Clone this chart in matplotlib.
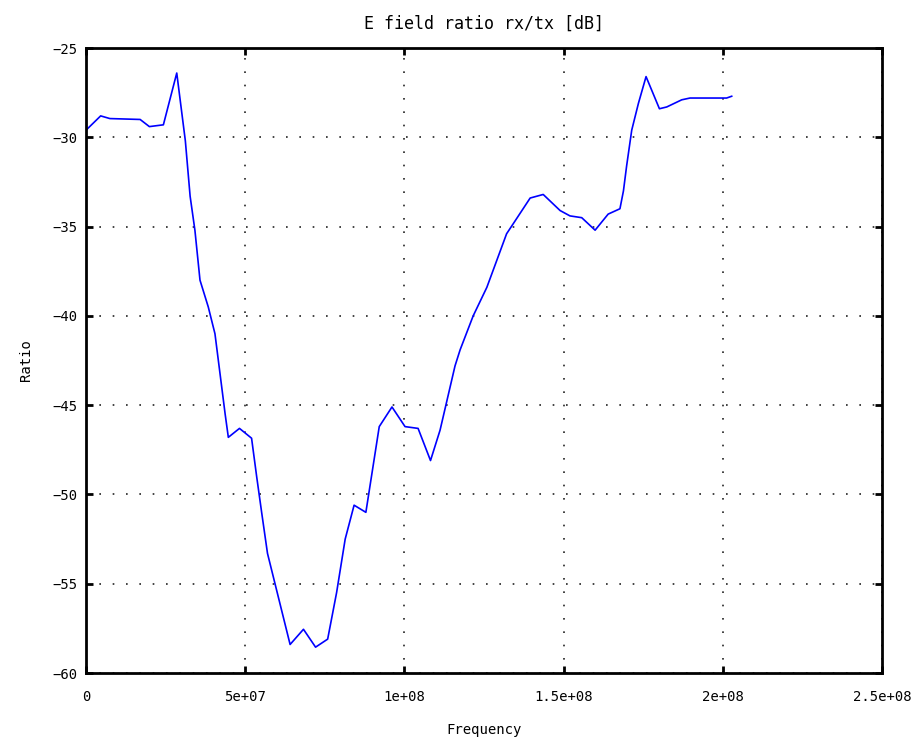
import matplotlib.pyplot as plt
import numpy as np

# frequency [Hz] and received/transmitted field ratio [dB]
freq_mhz = [0.0, 4.6, 7.5, 17.0, 19.9, 24.3, 28.5, 31.2, 32.7, 34.2, 35.8,
            38.4, 40.5, 43.7, 44.7, 48.2, 52.0, 53.6, 55.2, 57.0, 64.1,
            68.3, 72.1, 75.9, 78.7, 81.4, 84.2, 87.9, 90.0, 92.1, 96.1,
            100.2, 104.3, 108.2, 111.2, 115.9, 117.5, 121.6, 125.9, 129.0,
            132.1, 134.7, 139.5, 143.6, 148.9, 152.0, 155.7, 159.9, 164.0,
            167.7, 168.8, 169.8, 171.4, 173.5, 175.9, 180.1, 182.4, 187.1,
            189.7, 201.2, 202.8]
ratio_db = [-29.6, -28.8, -28.95, -29.0, -29.4, -29.3, -26.4, -30.2, -33.3,
            -35.2, -38.0, -39.5, -41.0, -45.5, -46.8, -46.3, -46.85, -49.0,
            -51.05, -53.3, -58.4, -57.55, -58.55, -58.1, -55.5, -52.5, -50.6,
            -51.0, -48.6, -46.2, -45.1, -46.2, -46.3, -48.1, -46.4, -42.8,
            -41.9, -40.0, -38.4, -36.9, -35.4, -34.7, -33.4, -33.2, -34.1,
            -34.4, -34.5, -35.2, -34.3, -34.0, -33.0, -31.6, -29.6, -28.1,
            -26.6, -28.4, -28.3, -27.9, -27.8, -27.8, -27.7]

freq = np.array(freq_mhz) * 1e6

xticks = [0, 5e7, 1e8, 1.5e8, 2e8, 2.5e8]
xticklabels = ['0', '5e+07', '1e+08', '1.5e+08', '2e+08', '2.5e+08']
yticks = [-60, -55, -50, -45, -40, -35, -30, -25]

plt.rcParams['font.family'] = ['DejaVu Sans Mono']
plt.rcParams['font.size'] = 10

fig = plt.figure(figsize=(9.17, 7.47), dpi=100)
ax = fig.add_axes([0.0938, 0.099, 0.868, 0.8367])

ax.plot(freq, ratio_db, color='#0000ff', lw=1.2)

ax.set_xlim(0, 2.5e8)
ax.set_ylim(-60, -25)
ax.set_xticks(xticks)
ax.set_xticklabels(xticklabels)
ax.set_yticks(yticks)

ax.grid(True, color='#222222', linestyle=(0, (1, 7)), linewidth=1.2)
for s in ax.spines.values():
    s.set_linewidth(2.0)
ax.tick_params(direction='in', length=5, width=2, top=True, right=True,
               pad=12)
ax.tick_params(axis='y', pad=6)

ax.set_title('E field ratio rx/tx [dB]', pad=14)
ax.set_xlabel('Frequency', labelpad=14)
ax.set_ylabel('Ratio', labelpad=14)

plt.savefig('out.png', dpi=100)
